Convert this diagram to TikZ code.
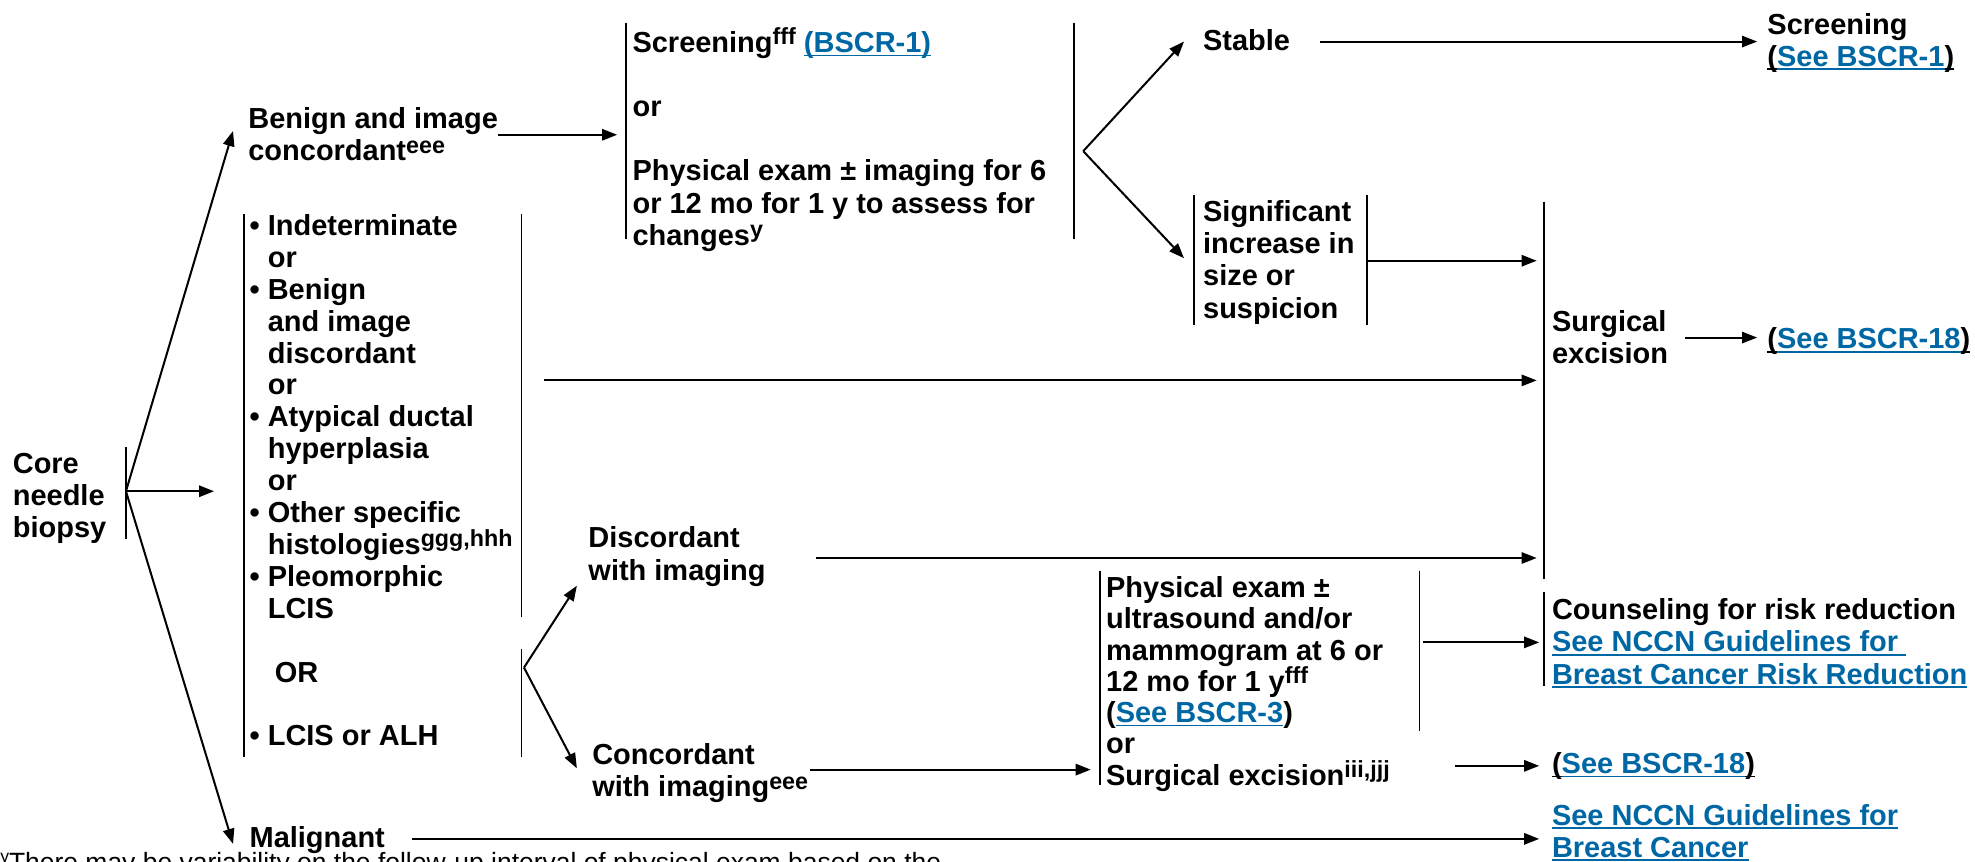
\documentclass[tikz,border=0pt]{standalone}
\usepackage{fontspec}
\setmainfont{Liberation Sans}
\usetikzlibrary{arrows.meta}
\definecolor{nccnblue}{RGB}{0,103,165}
\newcommand\ulin[1]{\setbox0\hbox{#1}\rlap{\rule[-3pt]{\wd0}{1.2pt}}\box0}
\newcommand\lk[1]{{\color{nccnblue}\ulin{#1}}}
\newcommand\fsz[1]{\fontsize{23}{#1}\selectfont\bfseries}
\newcommand\sups[1]{\raisebox{6pt}{\fontsize{18.5}{18.5}\selectfont\bfseries #1}}
\newcommand\bul{\textbullet\ }
\newcommand\ind{\hphantom{\textbullet\ }}
\begin{document}
\begin{tikzpicture}[x=1pt,y=-1pt,
  txt/.style={anchor=north west,inner sep=0pt,align=left,font=\fsz{25.5}},
  bar/.style={line width=1.5pt},
  arr/.style={line width=1.6pt,-{Triangle[length=12pt,width=9pt]}}]
\useasboundingbox (0,0) rectangle (1568,683.6);
% text nodes
\node[txt] (core) at (10,358) {\strut Core\\needle\\biopsy};
\node[txt] (benign) at (197,84) {\strut Benign and image\\concordant\sups{eee}};
\node[txt] (scr) at (502,22) {\strut Screening\sups{fff} \lk{(BSCR-1)}\\ \\or\\ \\Physical exam ± imaging for 6\\or 12 mo for 1 y to assess for\\changes\sups{y}};
\node[txt] (stable) at (955,22) {\strut Stable};
\node[txt] (scr2) at (1403,9) {\strut Screening\\\ulin{(}\lk{See BSCR-1}\ulin{)}};
\node[txt] (signif) at (955,158) {\strut Significant\\increase in\\size or\\suspicion};
\node[txt] (surg) at (1232,245) {\strut Surgical\\excision};
\node[txt] (bscrA) at (1403,259) {\strut\ulin{(}\lk{See BSCR-18}\ulin{)}};
\node[txt,font=\fsz{25.33}] (list) at (198,169) {\strut\bul Indeterminate\\
\ind or\\
\bul Benign\\
\ind and image\\
\ind discordant\\
\ind or\\
\bul Atypical ductal\\
\ind hyperplasia\\
\ind or\\
\bul Other specific\\
\ind histologies\sups{ggg,hhh}\\
\bul Pleomorphic\\
\ind LCIS\\ \\
\hspace*{20pt}OR\\ \\
\bul LCIS or ALH};
\node[txt] (discord) at (467,417) {\strut Discordant\\with imaging};
\node[txt] (concord) at (470,589) {\strut Concordant\\with imaging\sups{eee}};
\node[txt,font=\fsz{24.8}] (phys) at (878,457) {\strut Physical exam ±\\ultrasound and/or\\mammogram at 6 or\\12 mo for 1 y\sups{fff}\\(\lk{See BSCR-3})\\or\\Surgical excision\sups{iii,jjj}};
\node[txt] (counsel) at (1232,474) {\strut Counseling for risk reduction\\\lk{See NCCN Guidelines for }\\\lk{Breast Cancer Risk Reduction}};
\node[txt] (bscrB) at (1232,596) {\strut\ulin{(}\lk{See BSCR-18}\ulin{)}};
\node[txt] (nccnbc) at (1232,637) {\strut\lk{See NCCN Guidelines for}\\\lk{Breast Cancer}};
\node[txt] (malig) at (198,655) {\strut Malignant};
\node[anchor=base west,inner sep=0pt,font=\fontsize{21}{23}\selectfont] (foot) at (0,692) {\raisebox{7pt}{\fontsize{14}{14}\selectfont y}There may be variability on the follow-up interval of physical exam based on the};
% bar coordinates
\coordinate (coreT) at (100,355); \coordinate (coreB) at (100,428); \coordinate (coreM) at (100,390);
\coordinate (scrLT) at (497,18); \coordinate (scrLB) at (497,190);
\coordinate (scrRT) at (853,18); \coordinate (scrRB) at (853,190);
\coordinate (sigLT) at (948,155); \coordinate (sigLB) at (948,258);
\coordinate (sigRT) at (1085,155); \coordinate (sigRB) at (1085,258);
\coordinate (surT) at (1226,160); \coordinate (surB) at (1226,460);
\coordinate (lstLT) at (194,170); \coordinate (lstLB) at (194,601);
\coordinate (lstRT) at (414,170); \coordinate (lstRB) at (414,490);
\coordinate (lcRT) at (414,515); \coordinate (lcRB) at (414,601);
\coordinate (phLT) at (873,453); \coordinate (phLB) at (873,623);
\coordinate (phRT) at (1127,453); \coordinate (phRB) at (1127,580);
\coordinate (coT) at (1226,470); \coordinate (coB) at (1226,545);
% bars
\foreach \a/\b in {coreT/coreB,scrLT/scrLB,scrRT/scrRB,sigLT/sigLB,sigRT/sigRB,surT/surB,lstLT/lstLB,lstRT/lstRB,lcRT/lcRB,phLT/phLB,phRT/phRB,coT/coB}
  \draw[bar] (\a) -- (\b);
% arrow end points
\coordinate (tBen) at (185,104); \coordinate (tLst) at (170,390); \coordinate (tMal) at (185,670);
\coordinate (benO) at (395,107); \coordinate (tScr) at (490,107);
\coordinate (fkA) at (860,120); \coordinate (tSta) at (940,33); \coordinate (tSig) at (940,205);
\coordinate (staO) at (1048,33); \coordinate (tScr2) at (1395,33);
\coordinate (sigO) at (1085,207); \coordinate (tSur1) at (1220,207);
\coordinate (lstO) at (432,302); \coordinate (tSur2) at (1220,302);
\coordinate (surO) at (1338,268); \coordinate (tBA) at (1395,268);
\coordinate (fkB) at (416,530); \coordinate (tDis) at (458,465); \coordinate (tCon) at (458,610);
\coordinate (disO) at (648,443); \coordinate (tSur3) at (1220,443);
\coordinate (conO) at (643,611); \coordinate (tPh) at (866,611);
\coordinate (phO) at (1130,510); \coordinate (tCo) at (1222,510);
\coordinate (exO) at (1155,608); \coordinate (tBB) at (1222,608);
\coordinate (malO) at (327,666); \coordinate (tNB) at (1222,666);
% arrows
\draw[arr] (coreM) -- (tBen);
\draw[arr] (coreM) -- (tLst);
\draw[arr] (coreM) -- (tMal);
\draw[arr] (benO) -- (tScr);
\draw[arr] (fkA) -- (tSta);
\draw[arr] (fkA) -- (tSig);
\draw[arr] (staO) -- (tScr2);
\draw[arr] (sigO) -- (tSur1);
\draw[arr] (lstO) -- (tSur2);
\draw[arr] (surO) -- (tBA);
\draw[arr] (fkB) -- (tDis);
\draw[arr] (fkB) -- (tCon);
\draw[arr] (disO) -- (tSur3);
\draw[arr] (conO) -- (tPh);
\draw[arr] (phO) -- (tCo);
\draw[arr] (exO) -- (tBB);
\draw[arr] (malO) -- (tNB);
\end{tikzpicture}
\end{document}
